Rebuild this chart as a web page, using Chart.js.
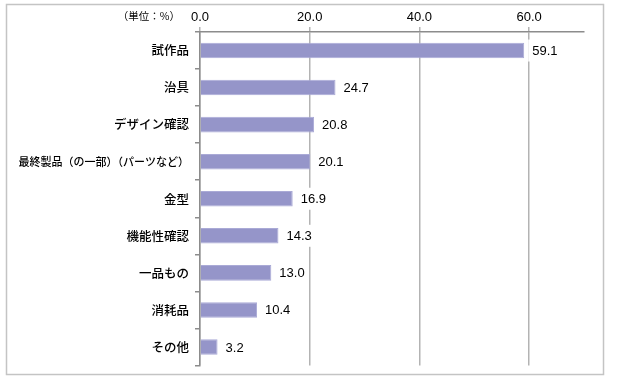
<!DOCTYPE html>
<html>
<head>
<meta charset="utf-8">
<script src="https://cdn.jsdelivr.net/npm/chart.js@4/dist/chart.umd.min.js"></script>
<style>
html,body{margin:0;padding:0;background:#fff;}
#wrap{position:relative;width:622px;height:379px;}
</style>
</head>
<body>
<div id="wrap"><canvas id="c" width="622" height="379"></canvas></div>
<script>
const categories = ['試作品','治具','デザイン確認','最終製品（の一部）（パーツなど）','金型','機能性確認','一品もの','消耗品','その他'];
const values = [59.1, 24.7, 20.8, 20.1, 16.9, 14.3, 13.0, 10.4, 3.2];
const xTicks = [0, 20, 40, 60];
const unitLabel = '（単位：%）';

const decor = {
  id: 'decor',
  beforeDraw(chart) {
    const ctx = chart.ctx;
    ctx.save();
    ctx.fillStyle = '#fff';
    ctx.fillRect(0, 0, chart.width, chart.height);
    ctx.strokeStyle = '#c4c4c4';
    ctx.lineWidth = 1.5;
    ctx.strokeRect(6.5, 4.5, 597, 370);
    ctx.restore();
  },
  afterDraw(chart) {
    const ctx = chart.ctx;
    const meta = chart.getDatasetMeta(0);
    ctx.save();
    ctx.font = '13px "Liberation Sans", Arial, sans-serif';
    ctx.textBaseline = 'middle';
    meta.data.forEach((bar, i) => {
      const txt = values[i].toFixed(1);
      const w = ctx.measureText(txt).width;
      const x = bar.x + 8;
      ctx.fillStyle = '#fff';
      ctx.fillRect(x - 4, bar.y - 11, w + 8, 22);
      ctx.fillStyle = '#000';
      ctx.fillText(txt, x, bar.y + 1);
    });
    ctx.font = '10.5px "Noto Sans CJK JP", sans-serif';
    ctx.textAlign = 'right';
    ctx.fillStyle = '#000';
    ctx.fillText(unitLabel, 180, 16);
    ctx.restore();
  }
};

new Chart(document.getElementById('c'), {
  type: 'bar',
  data: {
    labels: categories,
    datasets: [{
      data: values,
      backgroundColor: '#9595c9',
      borderColor: '#aaaad6',
      borderWidth: 1,
      categoryPercentage: 1,
      barPercentage: 0.42
    }]
  },
  options: {
    indexAxis: 'y',
    responsive: false,
    animation: false,
    layout: { padding: { left: 0, right: 38, top: 0, bottom: 11 } },
    plugins: { legend: { display: false }, tooltip: { enabled: false } },
    scales: {
      x: {
        position: 'top',
        min: 0, max: 70,
        afterFit: s => { s.height = 32; },
        afterBuildTicks: s => { s.ticks = xTicks.map(v => ({ value: v })); },
        ticks: {
          callback: v => Number(v).toFixed(1),
          font: { family: '"Liberation Sans", Arial, sans-serif', size: 13 },
          color: '#000',
          padding: 2,
          maxRotation: 0
        },
        grid: { color: '#b3b3b3', lineWidth: 1.5, tickLength: 5, drawTicks: true },
        border: { color: '#8c8c8c', width: 1.5 }
      },
      y: {
        afterFit: s => { s.width = 200; },
        ticks: {
          font: c => ({ family: '"Noto Sans CJK JP", sans-serif', size: (categories[c.index] || '').length > 10 ? 11 : 12.5, weight: '500' }),
          color: '#000',
          padding: 6
        },
        grid: { offset: true, drawOnChartArea: false, color: '#8c8c8c', tickLength: 5, lineWidth: 1.5 },
        border: { color: '#8c8c8c', width: 1.5 }
      }
    }
  },
  plugins: [decor]
});
</script>
</body>
</html>
